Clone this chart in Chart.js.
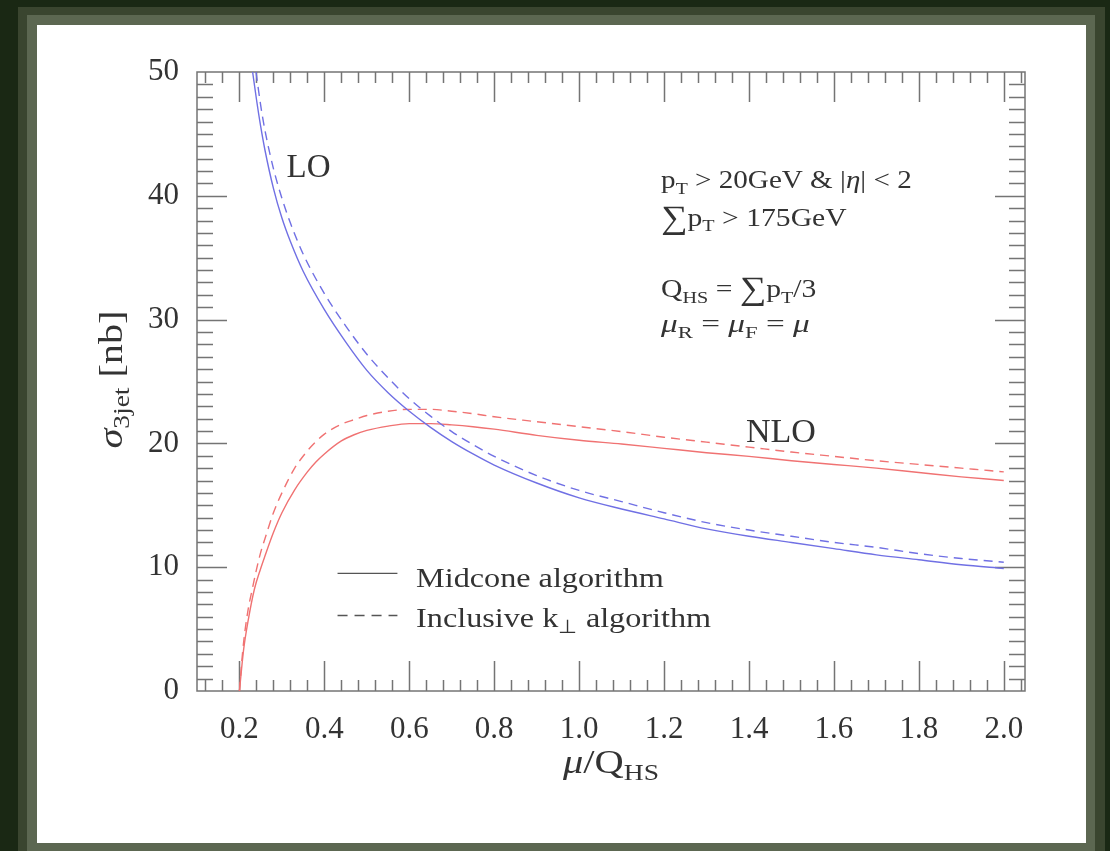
<!DOCTYPE html>
<html>
<head>
<meta charset="utf-8">
<title>sigma 3jet vs mu/Q_HS</title>
<script src="https://cdn.jsdelivr.net/npm/chart.js@4.4.1/dist/chart.umd.min.js"></script>
<style>
  html, body { margin: 0; padding: 0; }
  body { width: 1110px; height: 851px; background: #1a2814; position: relative; overflow: hidden; }
  .band-dark  { position: absolute; left: 18px; top: 7px;  width: 1087px; height: 844px; background: #3a452f; }
  .band-light { position: absolute; left: 27px; top: 15px; width: 1068px; height: 836px; background: #5c6751; }
  .panel      { position: absolute; left: 37px; top: 25px; width: 1049px; height: 818px; background: #ffffff; }
</style>
</head>
<body>
<div class="band-dark"></div>
<div class="band-light"></div>
<div class="panel"><canvas id="xsec"></canvas></div>

<script>
// scale choice mu / Q_HS and the 3-jet cross section [nb]
const loMidconeMu = [0.231, 0.24, 0.25, 0.26, 0.28, 0.30, 0.32, 0.35, 0.40, 0.45, 0.50, 0.55, 0.60, 0.65, 0.70, 0.75, 0.80, 0.90,
                     1.00, 1.10, 1.20, 1.30, 1.40, 1.50, 1.60, 1.70, 1.80, 1.90, 2.00];
const loMidcone   = [50, 47.8, 45.6, 43.7, 40.6, 38.2, 36.3, 33.9, 30.8, 28.2, 25.9, 24.1, 22.6, 21.3, 20.15, 19.15, 18.25, 16.8,
                     15.6, 14.7, 13.9, 13.1, 12.5, 12.0, 11.5, 11.0, 10.6, 10.2, 9.9];

const loKtMu = [0.239, 0.25, 0.26, 0.28, 0.30, 0.32, 0.35, 0.40, 0.45, 0.50, 0.55, 0.60, 0.65, 0.70, 0.75, 0.80, 0.90,
                1.00, 1.10, 1.20, 1.30, 1.40, 1.50, 1.60, 1.70, 1.80, 1.90, 2.00];
const loKt   = [50, 47.3, 45.3, 42.2, 39.8, 37.8, 35.3, 32.1, 29.5, 27.2, 25.3, 23.6, 22.2, 20.95, 19.9, 18.95, 17.4,
                16.2, 15.3, 14.4, 13.6, 13.0, 12.5, 12.0, 11.6, 11.1, 10.7, 10.4];

const nloMidconeMu = [0.20, 0.205, 0.21, 0.22, 0.235, 0.25, 0.26, 0.28, 0.30, 0.33, 0.36, 0.38, 0.40, 0.44, 0.47, 0.50, 0.55, 0.60, 0.65, 0.70, 0.75, 0.80, 0.90,
                      1.00, 1.10, 1.20, 1.30, 1.40, 1.50, 1.60, 1.70, 1.80, 1.90, 2.00];
const nloMidcone   = [0, 1.8, 3.4, 5.6, 8.2, 9.9, 10.9, 12.8, 14.4, 16.25, 17.7, 18.5, 19.15, 20.2, 20.7, 21.05, 21.4, 21.6, 21.6, 21.5, 21.35, 21.15, 20.65,
                      20.25, 19.95, 19.6, 19.25, 18.95, 18.6, 18.3, 18.0, 17.65, 17.3, 17.0];

const nloKtMu = [0.20, 0.205, 0.21, 0.22, 0.23, 0.24, 0.25, 0.26, 0.28, 0.30, 0.33, 0.36, 0.38, 0.40, 0.42, 0.44, 0.47, 0.50, 0.55, 0.60, 0.65, 0.70, 0.75, 0.80, 0.90,
                 1.00, 1.10, 1.20, 1.30, 1.40, 1.50, 1.60, 1.70, 1.80, 1.90, 2.00];
const nloKt   = [0, 2.2, 4.0, 6.5, 8.2, 9.8, 11.2, 12.3, 14.4, 16.0, 18.0, 19.4, 20.15, 20.75, 21.2, 21.55, 21.92, 22.25, 22.6, 22.75, 22.75, 22.6, 22.4, 22.15, 21.75,
                 21.35, 20.95, 20.5, 20.1, 19.7, 19.3, 18.95, 18.6, 18.3, 18.0, 17.7];

const xTickValues = [0.2, 0.4, 0.6, 0.8, 1.0, 1.2, 1.4, 1.6, 1.8, 2.0];
const yTickValues = [0, 10, 20, 30, 40, 50];

const SERIF = '"Liberation Serif", "Times New Roman", serif';
const INK = '#333333';
const BLUE = '#7070e4';
const RED = '#f07272';

const pts = (xs, ys) => xs.map((x, i) => ({ x: x, y: ys[i] }));

// text pieces: sub = subscript, it = italic, big = enlarged glyph
function pieceFont(p, size) {
  const fs = p.sub ? size * 0.68 : (p.big ? size * 1.25 : size);
  return (p.it ? 'italic ' : '') + fs + 'px ' + SERIF;
}
function richWidth(ctx, parts, size) {
  let w = 0;
  for (const p of parts) {
    ctx.font = pieceFont(p, size);
    w += ctx.measureText(p.t).width;
  }
  return w;
}
function drawRich(ctx, x, y, parts, size, sx) {
  ctx.save();
  ctx.translate(x, y);
  ctx.scale(sx || 1, 1);
  ctx.textBaseline = 'alphabetic';
  ctx.textAlign = 'left';
  ctx.fillStyle = INK;
  let cx = 0;
  for (const p of parts) {
    ctx.font = pieceFont(p, size);
    ctx.fillText(p.t, cx, p.sub ? size * 0.22 : (p.big ? size * 0.08 : 0));
    cx += ctx.measureText(p.t).width;
  }
  ctx.restore();
}

// frame with inward ticks on all four sides, plus the in-plot labels
const plotDecor = {
  id: 'plotDecor',
  beforeDatasetsDraw(chart) {
    const { ctx, chartArea: a, scales: { x, y } } = chart;
    ctx.save();
    ctx.strokeStyle = '#747474';
    ctx.lineWidth = 1.5;
    ctx.strokeRect(a.left, a.top, a.right - a.left, a.bottom - a.top);
    ctx.beginPath();
    for (let k = 3; k <= 51; k++) {
      const px = Math.round(x.getPixelForValue(k * 0.04)) + 0.5;
      const len = k % 5 === 0 ? 30 : 11;
      ctx.moveTo(px, a.bottom); ctx.lineTo(px, a.bottom - len);
      ctx.moveTo(px, a.top);    ctx.lineTo(px, a.top + len);
    }
    for (let j = 1; j < 50; j++) {
      const py = Math.round(y.getPixelForValue(j)) + 0.5;
      const len = j % 10 === 0 ? 30 : 16;
      ctx.moveTo(a.left, py);  ctx.lineTo(a.left + len, py);
      ctx.moveTo(a.right, py); ctx.lineTo(a.right - len, py);
    }
    ctx.stroke();
    ctx.restore();
  },
  afterDatasetsDraw(chart) {
    const { ctx, chartArea: a, scales: { x, y } } = chart;
    const X = v => x.getPixelForValue(v), Y = v => y.getPixelForValue(v);

    drawRich(ctx, X(0.311), Y(41.5), [{ t: 'LO' }], 33);
    drawRich(ctx, X(1.393), Y(20.1), [{ t: 'NLO' }], 34);

    // cuts and scale definitions
    const s = 26, sx = 1.14;
    drawRich(ctx, X(1.193), Y(40.6), [{ t: 'p' }, { t: 'T', sub: 1 }, { t: ' > 20GeV & |' }, { t: 'η', it: 1 }, { t: '| < 2' }], s, 1.12);
    drawRich(ctx, X(1.193), Y(37.6), [{ t: '∑', big: 1 }, { t: 'p' }, { t: 'T', sub: 1 }, { t: ' > 175GeV' }], s, sx);
    drawRich(ctx, X(1.193), Y(31.8), [{ t: 'Q' }, { t: 'HS', sub: 1 }, { t: ' = ' }, { t: '∑', big: 1 }, { t: 'p' }, { t: 'T', sub: 1 }, { t: '/3' }], s, sx);
    drawRich(ctx, X(1.193), Y(29.0), [{ t: 'μ', it: 1 }, { t: 'R', sub: 1 }, { t: ' = ' }, { t: 'μ', it: 1 }, { t: 'F', sub: 1 }, { t: ' = ' }, { t: 'μ', it: 1 }], 26, 1.28);

    // line-style key
    ctx.save();
    ctx.strokeStyle = '#555';
    ctx.lineWidth = 1.4;
    ctx.beginPath();
    ctx.moveTo(X(0.431), Y(9.5)); ctx.lineTo(X(0.572), Y(9.5));
    ctx.stroke();
    ctx.setLineDash([10, 7]);
    ctx.beginPath();
    ctx.moveTo(X(0.431), Y(6.1)); ctx.lineTo(X(0.572), Y(6.1));
    ctx.stroke();
    ctx.restore();
    drawRich(ctx, X(0.616), Y(8.4), [{ t: 'Midcone algorithm' }], 28, 1.15);
    drawRich(ctx, X(0.616), Y(5.2), [{ t: 'Inclusive k' }, { t: '⊥', sub: 1 }, { t: ' algorithm' }], 28, 1.15);

    // axis titles
    const xt = [{ t: 'μ', it: 1 }, { t: '/Q' }, { t: 'HS', sub: 1 }];
    const xw = richWidth(ctx, xt, 34) * 1.19;
    drawRich(ctx, (a.left + a.right) / 2 - xw / 2, a.bottom + 82, xt, 34, 1.19);

    const yt = [{ t: 'σ', it: 1 }, { t: '3jet', sub: 1 }, { t: ' [nb]' }];
    const yw = richWidth(ctx, yt, 33) * 1.22;
    ctx.save();
    ctx.translate(a.left - 75, (a.top + a.bottom) / 2 - 2);
    ctx.rotate(-Math.PI / 2);
    drawRich(ctx, -yw / 2, 0, yt, 33, 1.22);
    ctx.restore();
  }
};

const line = (data, color, dashed) => ({
  data: data,
  borderColor: color,
  borderWidth: 1.4,
  borderDash: dashed ? [9, 6] : [],
  pointRadius: 0,
  fill: false,
  cubicInterpolationMode: 'monotone'
});

new Chart(document.getElementById('xsec'), {
  type: 'line',
  data: {
    datasets: [
      line(pts(loMidconeMu, loMidcone), BLUE, false),
      line(pts(loKtMu, loKt), BLUE, true),
      line(pts(nloMidconeMu, nloMidcone), RED, false),
      line(pts(nloKtMu, nloKt), RED, true)
    ]
  },
  options: {
    responsive: true,
    maintainAspectRatio: false,
    animation: false,
    layout: { padding: { left: 0, right: 61, top: 47, bottom: 0 } },
    plugins: { legend: { display: false }, tooltip: { enabled: false } },
    scales: {
      x: {
        type: 'linear',
        min: 0.1,
        max: 2.05,
        grid: { display: false },
        border: { display: false },
        afterBuildTicks: s => { s.ticks = xTickValues.map(v => ({ value: v })); },
        afterFit: s => { s.height = 152; },
        ticks: {
          padding: 12,
          color: INK,
          maxRotation: 0,
          font: { family: SERIF, size: 31 },
          callback: v => v.toFixed(1)
        }
      },
      y: {
        min: 0,
        max: 50,
        grid: { display: false },
        border: { display: false },
        afterBuildTicks: s => { s.ticks = yTickValues.map(v => ({ value: v })); },
        afterFit: s => { s.width = 160; },
        ticks: {
          padding: 10,
          color: INK,
          font: { family: SERIF, size: 31 }
        }
      }
    }
  },
  plugins: [plotDecor]
});
</script>
</body>
</html>
